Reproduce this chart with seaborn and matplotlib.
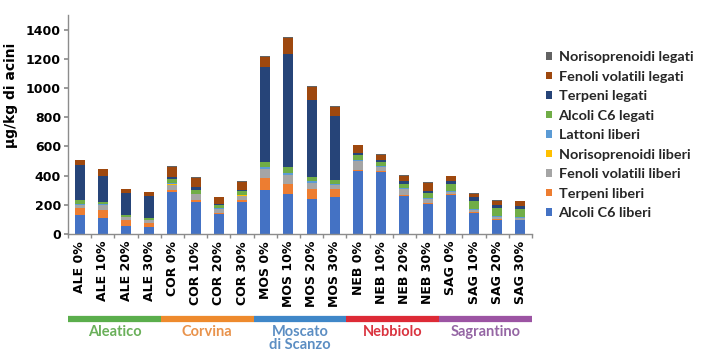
import numpy as np
import pandas as pd
import matplotlib
matplotlib.use("Agg")
import matplotlib.pyplot as plt
import matplotlib.transforms as mtransforms
from matplotlib.patches import Patch
import seaborn as sns

# ---------------- data ----------------
samples = ["ALE 0%", "ALE 10%", "ALE 20%", "ALE 30%",
           "COR 0%", "COR 10%", "COR 20%", "COR 30%",
           "MOS 0%", "MOS 10%", "MOS 20%", "MOS 30%",
           "NEB 0%", "NEB 10%", "NEB 20%", "NEB 30%",
           "SAG 0%", "SAG 10%", "SAG 20%", "SAG 30%"]

groups = ["Aleatico", "Corvina", "Moscato\ndi Scanzo", "Nebbiolo", "Sagrantino"]

components = ["Alcoli C6 liberi", "Terpeni liberi", "Fenoli volatili liberi",
              "Norisoprenoidi liberi", "Lattoni liberi", "Alcoli C6 legati",
              "Terpeni legati", "Fenoli volatili legati", "Norisoprenoidi legati"]

alcoli_c6_liberi = [127, 109, 57, 48, 291, 222, 138, 222, 302, 275, 241, 256, 432, 427, 263, 205, 268, 147, 97, 93]
terpeni_liberi = [50, 57, 36, 27, 12, 8, 8, 10, 80, 70, 70, 55, 5, 4, 5, 5, 5, 5, 5, 5]
fenoli_volatili_liberi = [24, 35, 21, 19, 36, 41, 26, 31, 62, 57, 37, 22, 61, 26, 41, 31, 16, 13, 13, 13]
norisoprenoidi_liberi = [1, 1, 1, 1, 1, 1, 1, 1, 2, 2, 2, 2, 1, 1, 1, 1, 1, 1, 1, 1]
lattoni_liberi = [5, 5, 4, 3, 6, 5, 4, 5, 10, 12, 10, 8, 8, 6, 6, 6, 5, 4, 4, 4]
alcoli_c6_legati = [26, 14, 13, 11, 30, 25, 20, 25, 38, 45, 32, 30, 35, 30, 25, 35, 45, 55, 55, 55]
terpeni_legati = [239, 176, 148, 152, 15, 17, 10, 10, 653, 772, 528, 435, 15, 15, 20, 10, 25, 30, 22, 22]
fenoli_volatili_legati = [34, 45, 27, 25, 70, 65, 45, 55, 67, 110, 90, 62, 50, 35, 35, 55, 30, 20, 30, 30]
norisoprenoidi_legati = [3, 3, 3, 3, 4, 8, 4, 5, 5, 8, 5, 6, 6, 5, 5, 5, 4, 4, 5, 4]

yticks = [0, 200, 400, 600, 800, 1000, 1200, 1400]

# ---------------- styles ----------------
comp_colors = ["#4472C4", "#ED7D31", "#A5A5A5", "#FFC000", "#5B9BD5",
               "#70AD47", "#264478", "#9E480E", "#636363"]
group_bar_colors = ["#5BAE4C", "#EE8A2D", "#3F87C8", "#DD2A36", "#9C54A3"]
group_text_colors = ["#6AB05A", "#E9934C", "#5C8EC3", "#DA3440", "#9566A4"]

sns.set_theme(style="white")
plt.rcParams["font.family"] = ["DejaVu Sans"]

fig = plt.figure(figsize=(7.04, 3.58), dpi=100)
ax = fig.add_axes([68 / 704, 1 - 234 / 358, (532 - 68) / 704, (234 - 15) / 358])

df = pd.DataFrame(dict(zip(components, [alcoli_c6_liberi, terpeni_liberi, fenoli_volatili_liberi,
                                         norisoprenoidi_liberi, lattoni_liberi, alcoli_c6_legati,
                                         terpeni_legati, fenoli_volatili_legati, norisoprenoidi_legati])),
                  index=samples)
cum = df.cumsum(axis=1)

for comp, col in reversed(list(zip(components, comp_colors))):
    sns.barplot(x=samples, y=cum[comp].values, color=col, width=0.43, saturation=1,
                errorbar=None, linewidth=0, ax=ax)

ax.set_xlim(-0.5, len(samples) - 0.5)
ax.set_ylim(0, 1500)
ax.set_yticks(yticks)
ax.set_yticklabels([str(v) for v in yticks], fontsize=9, fontweight="bold", color="black")
ax.set_xticks(range(len(samples)))
ax.set_xticklabels(samples, rotation=90, fontsize=9, fontweight="bold", color="black")
ax.set_xticks(np.arange(-0.5, len(samples), 1.0), minor=True)
ax.tick_params(axis="x", which="major", length=0, pad=5)
ax.tick_params(axis="x", which="minor", length=3, color="#8c8c8c", direction="out", bottom=True)
ax.tick_params(axis="y", which="major", length=3, color="#8c8c8c", direction="out", left=True, pad=2)

for s in ["top", "right"]:
    ax.spines[s].set_visible(False)
for s in ["left", "bottom"]:
    ax.spines[s].set_color("#8c8c8c")
    ax.spines[s].set_linewidth(1.0)

ax.set_xlabel("")
ax.set_ylabel("µg/kg di acini", fontsize=10, fontweight="bold", color="black")
ax.yaxis.set_label_coords(-0.108, 0.635)

# group bars and labels
trans = mtransforms.blended_transform_factory(ax.transData, fig.transFigure)
for g, (name, bc, tc) in enumerate(zip(groups, group_bar_colors, group_text_colors)):
    ax.plot([4 * g - 0.5, 4 * g + 3.5], [1 - 319 / 358] * 2, transform=trans, color=bc,
            lw=4.5, solid_capstyle="butt", clip_on=False)
    ax.text(4 * g + 1.5, 1 - 325 / 358, name, transform=trans, ha="center", va="top",
            color=tc, fontsize=10.5, fontweight="bold", family="Lato", linespacing=0.95)

# legend (reversed order)
handles = [Patch(facecolor=c, edgecolor="none") for c in reversed(comp_colors)]
labels = list(reversed(components))
fig.legend(handles, labels, loc="upper left", bbox_to_anchor=(546 / 704, 1 - 51 / 358),
           frameon=False, handlelength=0.42, handleheight=0.42, handletextpad=0.45,
           labelspacing=0.52, borderaxespad=0, borderpad=0,
           prop=dict(family="Lato", weight="bold", size=10.4))

fig.savefig("out.png", dpi=100, facecolor="white")
